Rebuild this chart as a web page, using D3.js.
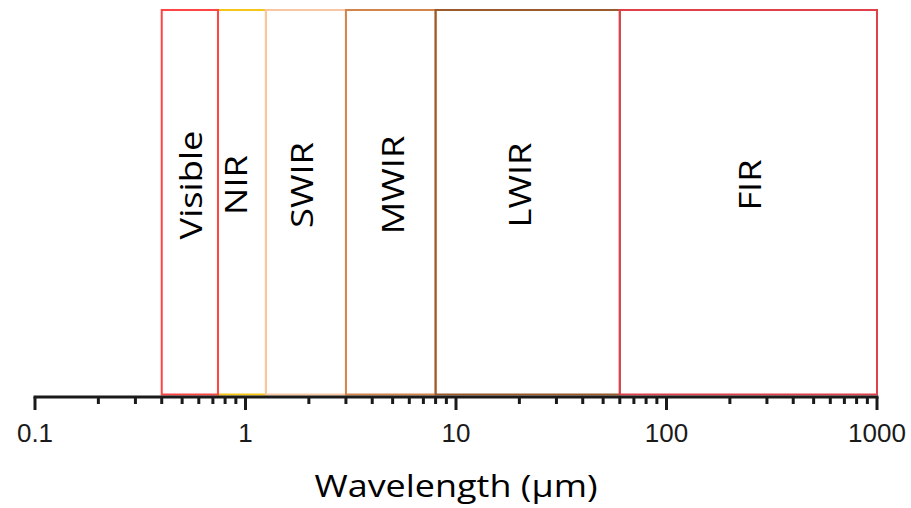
<!DOCTYPE html>
<html>
<head>
<meta charset="utf-8">
<script src="https://cdn.jsdelivr.net/npm/d3@7/dist/d3.min.js"></script>
<style>
  html, body { margin: 0; padding: 0; background: #fff; }
  svg { display: block; }
</style>
</head>
<body>
<svg id="chart" width="911" height="508"></svg>
<script>
// ---- data ----
const bands      = ["NIR", "Visible", "SWIR", "MWIR", "LWIR", "FIR"];      // draw order
const bandStart  = [0.74, 0.4, 1.25, 3, 8, 60];                            // µm
const bandEnd    = [1.25, 0.74, 3, 8, 60, 1000];                           // µm
const labelAt    = [0.9, 0.55, 1.85, 5, 20, 250];                          // µm, label centre
const bandStroke = ["#f5c518", "#ff4444", "#f9c6a4", "#d2844a", "#9a5a2c", "#e0404a"];
const tickValues = [0.1, 1, 10, 100, 1000];
const tickLabels = ["0.1", "1", "10", "100", "1000"];
const axisTitle  = "Wavelength (µm)";

// ---- layout ----
const svg = d3.select("#chart");
const x = d3.scaleLog().domain([0.1, 1000]).range([35, 877]);
const yTop = 10, yBottom = 394.5, axisY = 397;

// bands
const g = svg.append("g");
bands.forEach((name, i) => {
  const x0 = x(bandStart[i]), x1 = x(bandEnd[i]);
  g.append("rect")
    .attr("x", x0).attr("y", yTop)
    .attr("width", x1 - x0).attr("height", yBottom - yTop)
    .attr("fill", "none")
    .attr("stroke", bandStroke[i])
    .attr("stroke-width", 2);
});

// axis
const minor = [];
for (let d = 0.1; d < 1000; d *= 10) {
  for (let k = 2; k <= 9; k++) minor.push(+(d * k).toPrecision(3));
}
const ax = svg.append("g");
ax.selectAll("line.minor").data(minor).join("line")
  .attr("class", "minor")
  .attr("x1", d => x(d)).attr("x2", d => x(d))
  .attr("y1", axisY).attr("y2", 404)
  .attr("stroke", "#1a1a1a").attr("stroke-width", 3);
ax.selectAll("line.major").data(tickValues).join("line")
  .attr("class", "major")
  .attr("x1", d => x(d)).attr("x2", d => x(d))
  .attr("y1", axisY).attr("y2", 410)
  .attr("stroke", "#1a1a1a").attr("stroke-width", 3);
ax.append("line")
  .attr("x1", x(0.1) - 1.5).attr("x2", x(1000) + 1.5)
  .attr("y1", axisY).attr("y2", axisY)
  .attr("stroke", "#1a1a1a").attr("stroke-width", 3);
ax.selectAll("text.tick").data(tickValues).join("text")
  .attr("class", "tick")
  .attr("x", d => x(d)).attr("y", 442)
  .attr("text-anchor", "middle")
  .attr("font-family", "'Liberation Sans', Arial, sans-serif")
  .attr("font-size", 26)
  .attr("fill", "#1a1a1a")
  .text((d, i) => tickLabels[i]);

// axis title
svg.append("text")
  .attr("transform", "translate(456,497) scale(1.16,1)")
  .attr("text-anchor", "middle")
  .attr("font-family", "'Open Sans', sans-serif")
  .attr("font-size", 31)
  .attr("fill", "#000")
  .text(axisTitle);

// band labels
bands.forEach((name, i) => {
  svg.append("text")
    .attr("transform", `translate(${x(labelAt[i])},185) rotate(-90) scale(1.17,1)`)
    .attr("text-anchor", "middle")
    .attr("dy", "0.36em")
    .attr("font-family", "'Open Sans', sans-serif")
    .attr("font-size", 31)
    .attr("fill", "#000")
    .text(name);
});
</script>
</body>
</html>
